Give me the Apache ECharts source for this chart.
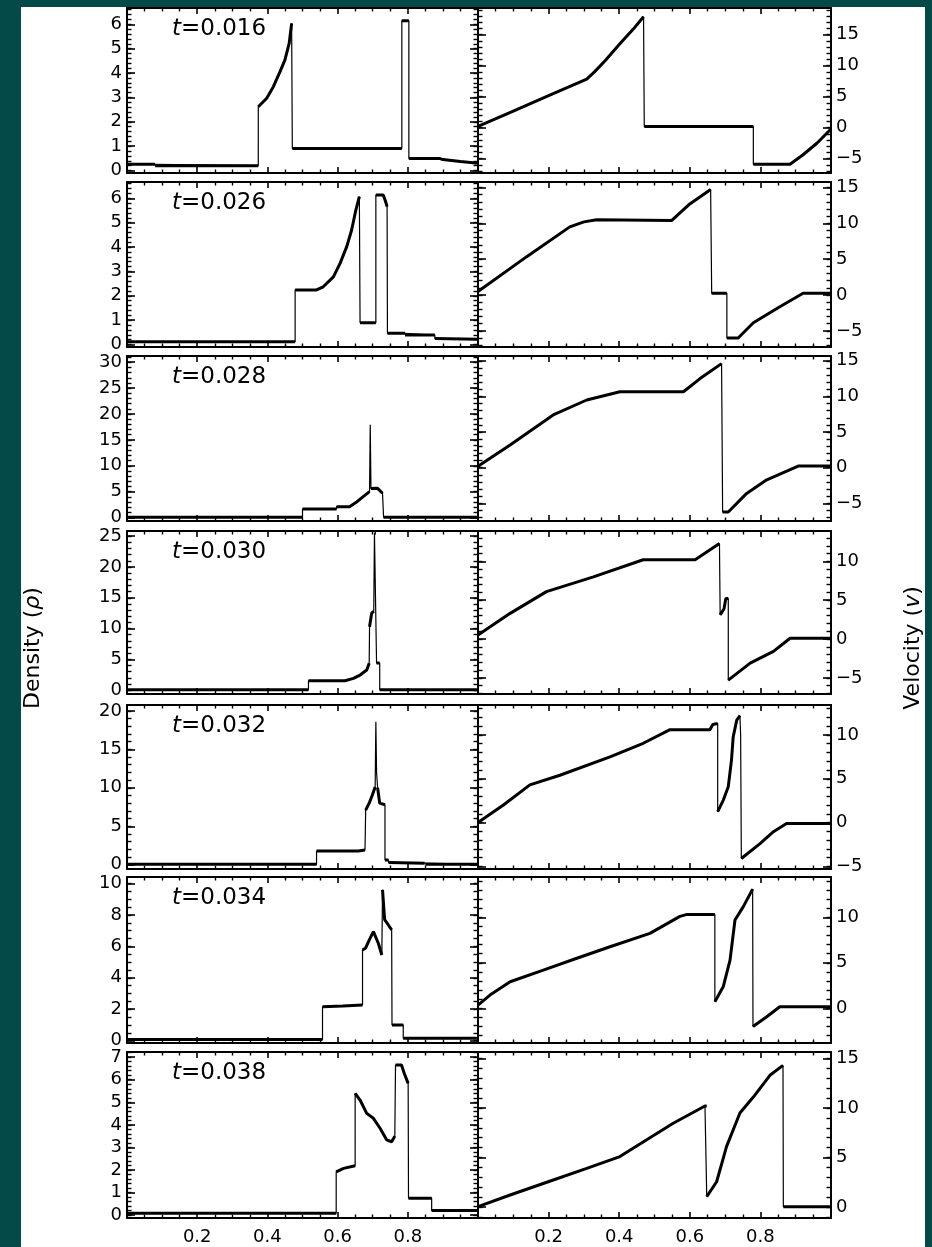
<!DOCTYPE html>
<html>
<head>
<meta charset="utf-8">
<script src="https://cdn.jsdelivr.net/npm/echarts@6/dist/echarts.min.js"></script>
<style>
  html, body { margin: 0; padding: 0; background: #034a48; }
  #chart { width: 932px; height: 1247px; }
</style>
</head>
<body>
<div id="chart"></div>
<script>
// snapshot times, one row of panels each
const times = ["0.016", "0.026", "0.028", "0.030", "0.032", "0.034", "0.038"];

// density profiles, [x, rho]
const rho016 = [[0, 0.26], [0.08, 0.26], [0.08, 0.2], [0.374, 0.2], [0.374, 2.62], [0.384, 2.76], [0.398, 2.97],
  [0.417, 3.44], [0.436, 4.06], [0.45, 4.54], [0.462, 5.22], [0.469, 6.04], [0.471, 6.11], [0.471, 0.91],
  [0.783, 0.91], [0.783, 6.15], [0.803, 6.15], [0.803, 0.5], [0.89, 0.5], [0.9, 0.45], [0.95, 0.37], [1, 0.3]];
const rho026 = [[0, 0.12], [0.479, 0.12], [0.479, 2.24], [0.54, 2.24], [0.559, 2.37], [0.588, 2.78], [0.607, 3.33],
  [0.626, 4.02], [0.64, 4.7], [0.652, 5.52], [0.662, 6.07], [0.664, 6.07], [0.664, 0.9], [0.709, 0.9], [0.709, 6.14],
  [0.73, 6.14], [0.736, 5.9], [0.741, 5.66], [0.742, 0.46], [0.792, 0.46], [0.792, 0.39], [0.877, 0.39],
  [0.877, 0.25], [1, 0.22]];
const rho028 = [[0, 0.05], [0.5, 0.05], [0.5, 1.66], [0.597, 1.66], [0.597, 2.1], [0.634, 2.1], [0.653, 2.95],
  [0.672, 4.0], [0.691, 5.0], [0.693, 17.9], [0.695, 5.6], [0.7, 5.65], [0.714, 5.65], [0.728, 4.7], [0.73, 4.7],
  [0.731, 0.05], [1, 0.05]];
const rho030 = [[0, 0.05], [0.517, 0.05], [0.517, 1.53], [0.621, 1.53], [0.645, 1.9], [0.664, 2.45], [0.683, 3.27],
  [0.69, 4.35], [0.691, 10.3], [0.697, 12.5], [0.703, 12.8], [0.705, 25.5], [0.709, 25.5], [0.711, 4.4],
  [0.72, 4.4], [0.72, 0.05], [1, 0.05]];
const rho032 = [[0, 0.05], [0.54, 0.05], [0.54, 1.78], [0.659, 1.78], [0.678, 1.9], [0.68, 7.1], [0.69, 8.0],
  [0.699, 9.06], [0.707, 10.1], [0.709, 18.6], [0.711, 12], [0.714, 10.0], [0.72, 8.0], [0.735, 7.8],
  [0.735, 0.6], [0.745, 0.6], [0.745, 0.3], [0.848, 0.2], [0.85, 0.05], [1, 0.05]];
const rho034 = [[0, 0.08], [0.557, 0.08], [0.557, 2.16], [0.615, 2.2], [0.671, 2.27], [0.671, 5.77], [0.68, 5.9],
  [0.69, 6.4], [0.702, 6.94], [0.716, 6.2], [0.726, 5.45], [0.728, 9.6], [0.734, 7.7], [0.745, 7.35],
  [0.754, 7.05], [0.755, 1.0], [0.787, 1.0], [0.787, 0.15], [1, 0.15]];
const rho038 = [[0, 0.08], [0.596, 0.08], [0.596, 1.92], [0.617, 2.07], [0.65, 2.19], [0.65, 5.4], [0.664, 5.1],
  [0.683, 4.51], [0.702, 4.29], [0.721, 3.85], [0.74, 3.33], [0.754, 3.25], [0.763, 3.5], [0.765, 6.65],
  [0.782, 6.65], [0.79, 6.28], [0.801, 5.84], [0.802, 0.75], [0.868, 0.75], [0.868, 0.2], [1, 0.2]];

// velocity profiles, [x, v]
const vel016 = [[0, 0.2], [0.1, 2.68], [0.2, 5.16], [0.308, 7.85], [0.33, 9.0], [0.36, 10.8], [0.4, 13.4],
  [0.44, 15.9], [0.469, 17.9], [0.471, 0.2], [0.78, 0.2], [0.78, -5.9], [0.884, -5.9], [0.92, -4.4],
  [0.96, -2.5], [1, -0.2]];
const vel026 = [[0, 0.5], [0.138, 5.35], [0.26, 9.5], [0.3, 10.2], [0.336, 10.5], [0.549, 10.4], [0.6, 12.7],
  [0.659, 14.7], [0.662, 14.7], [0.662, 0.24], [0.705, 0.24], [0.705, -6.0], [0.737, -6.0], [0.78, -3.86],
  [0.855, -1.63], [0.921, 0.24], [1, 0.24]];
const vel028 = [[0, 0.2], [0.091, 3.2], [0.213, 7.4], [0.308, 9.5], [0.402, 10.66], [0.582, 10.66], [0.629, 12.5],
  [0.69, 14.6], [0.693, 14.6], [0.693, -6.2], [0.709, -6.2], [0.761, -3.6], [0.818, -1.7], [0.907, 0.24],
  [1, 0.24]];
const vel030 = [[0, 0.5], [0.091, 3.3], [0.194, 6.1], [0.327, 8.0], [0.468, 10.2], [0.615, 10.2], [0.684, 12.3],
  [0.686, 12.3], [0.686, 3.1], [0.697, 3.9], [0.702, 5.2], [0.709, 5.2], [0.709, -5.3], [0.771, -3.1],
  [0.837, -1.6], [0.884, 0.1], [1, 0.1]];
const vel032 = [[0, 0], [0.072, 2.0], [0.147, 4.3], [0.232, 5.4], [0.374, 7.5], [0.468, 9.05], [0.544, 10.6],
  [0.657, 10.6], [0.665, 11.2], [0.679, 11.3], [0.679, 1.24], [0.695, 2.57], [0.709, 4.1], [0.718, 7.1],
  [0.723, 9.8], [0.733, 11.7], [0.742, 12.2], [0.744, 10.0], [0.746, 10.0], [0.746, -4.1], [0.799, -2.4],
  [0.837, -1.04], [0.874, -0.1], [1, -0.1]];
const vel034 = [[0, 0.36], [0.034, 1.46], [0.091, 2.92], [0.185, 4.2], [0.28, 5.5], [0.374, 6.77], [0.487, 8.24],
  [0.572, 10.1], [0.59, 10.3], [0.671, 10.3], [0.671, 0.73], [0.695, 2.4], [0.714, 5.3], [0.728, 9.7],
  [0.752, 11.2], [0.778, 13.1], [0.779, -2.0], [0.818, -0.92], [0.855, 0.18], [1, 0.18]];
const vel038 = [[0, 0.04], [0.091, 1.22], [0.199, 2.56], [0.308, 3.9], [0.402, 5.1], [0.478, 6.8], [0.553, 8.46],
  [0.643, 10.2], [0.648, 10.2], [0.648, 1.05], [0.676, 2.56], [0.704, 6.1], [0.742, 9.5], [0.78, 11.1],
  [0.827, 13.3], [0.864, 14.3], [0.865, 0.04], [1, 0.04]];

const rhoProfiles = [rho016, rho026, rho028, rho030, rho032, rho034, rho038];
const velProfiles = [vel016, vel026, vel028, vel030, vel032, vel034, vel038];

// axis ranges and tick labels per row
const rhoMin = [-0.1, -0.1, -0.66, -0.63, -0.56, -0.15, -0.13];
const rhoMax = [6.67, 6.67, 31.2, 25.85, 20.77, 10.42, 7.23];
const rhoLabels = [
  [0, 1, 2, 3, 4, 5, 6], [0, 1, 2, 3, 4, 5, 6], [0, 5, 10, 15, 20, 25, 30], [0, 5, 10, 15, 20, 25],
  [0, 5, 10, 15, 20], [0, 2, 4, 6, 8, 10], [0, 1, 2, 3, 4, 5, 6, 7]];
const rhoMinorStep = [0.2, 0.2, 1, 1, 1, 0.5, 0.2];
const velMin = [-7.3, -7.25, -7.47, -7.08, -5.3, -3.81, -1.1];
const velMax = [19.3, 15.76, 15.67, 13.9, 13.42, 14.43, 15.65];
const velLabels = [
  [-5, 0, 5, 10, 15], [-5, 0, 5, 10, 15], [-5, 0, 5, 10, 15], [-5, 0, 5, 10],
  [-5, 0, 5, 10], [0, 5, 10], [0, 5, 10, 15]];
const velMinorStep = [1, 1, 1, 1, 1, 1, 1];
const xLabels = [0.2, 0.4, 0.6, 0.8];

// layout
const panelTops = [8, 182, 356, 531, 705, 877, 1052];
const panelBottoms = [173, 347, 521, 694, 869, 1043, 1218];
const colLeft = [127, 478];
const colWidth = [351, 353];

const font = "DejaVu Sans";
const ink = "#000";

function stepValues(min, max, step) {
  const out = [];
  for (let k = Math.ceil(min / step - 1e-9); k * step <= max + 1e-9; k++) out.push(+(k * step).toFixed(4));
  return out;
}

const fmtNum = (v) => (v < 0 ? "\u2212" + Math.abs(v) : String(v));

const option = {
  backgroundColor: "#034a48",
  animation: false,
  grid: [], xAxis: [], yAxis: [], series: [], title: [],
  graphic: [
    { type: "rect", z: -10, silent: true, shape: { x: 21, y: 7, width: 904, height: 1240 }, style: { fill: "#fff" } },
    {
      type: "text", x: 33, y: 648, rotation: Math.PI / 2, silent: true,
      style: {
        text: "Density ({g|\u03c1})", fill: ink, font: `22px "${font}"`, align: "center", verticalAlign: "middle",
        textAlign: "center", textVerticalAlign: "middle",
        rich: { g: { fontStyle: "italic", fontFamily: font, fontSize: 22, fill: ink, color: ink } },
      },
    },
    {
      type: "text", x: 913, y: 648, rotation: Math.PI / 2, silent: true,
      style: {
        text: "Velocity ({g|v})", fill: ink, font: `22px "${font}"`, align: "center", verticalAlign: "middle",
        textAlign: "center", textVerticalAlign: "middle",
        rich: { g: { fontStyle: "italic", fontFamily: font, fontSize: 22, fill: ink, color: ink } },
      },
    },
  ],
};

function addYAxes(gi, min, max, majors, minors, position, showLabels) {
  const base = { type: "value", gridIndex: gi, min, max, position, splitLine: { show: false } };
  const idx = option.yAxis.length;
  option.yAxis.push({
    ...base,
    axisLine: { show: true, onZero: false, lineStyle: { color: ink, width: 2 } },
    axisTick: { show: true, inside: true, length: 8, customValues: majors, lineStyle: { color: ink, width: 1.6 } },
    axisLabel: {
      show: showLabels, customValues: majors, formatter: fmtNum, margin: 5,
      color: ink, fontFamily: font, fontSize: 18,
    },
  });
  option.yAxis.push({
    ...base,
    axisLine: { show: false, onZero: false },
    axisTick: { show: true, inside: true, length: 4.5, customValues: minors, lineStyle: { color: ink, width: 1.4 } },
    axisLabel: { show: false },
  });
  return idx;
}

function addXAxes(gi, showLabels) {
  const base = {
    type: "value", gridIndex: gi, min: 0, max: 1, interval: 0.2, splitLine: { show: false },
    axisLine: { show: true, onZero: false, lineStyle: { color: ink, width: 2 } },
    axisTick: { show: true, inside: true, length: 6, lineStyle: { color: ink, width: 1.6 } },
    minorTick: { show: true, splitNumber: 4, length: 3.5, lineStyle: { color: ink, width: 1.4 } },
  };
  const idx = option.xAxis.length;
  option.xAxis.push({
    ...base, position: "bottom",
    axisLabel: {
      show: showLabels, margin: 10, color: ink, fontFamily: font, fontSize: 18,
      formatter: (v) => (xLabels.some((l) => Math.abs(l - v) < 1e-6) ? v.toFixed(1) : ""),
    },
  });
  option.xAxis.push({ ...base, position: "top", axisLabel: { show: false } });
  return idx;
}

// thick strokes everywhere except the near-vertical jumps, which stay hairline
function withBreaks(points) {
  const out = [points[0]];
  for (let i = 1; i < points.length; i++) {
    const [x0] = points[i - 1];
    const [x1] = points[i];
    if (Math.abs(x1 - x0) < 0.0035) out.push([x0, "-"]);
    out.push(points[i]);
  }
  return out;
}

function addPanel(row, col, data, min, max, majors, minorStep) {
  const gi = option.grid.length;
  option.grid.push({
    left: colLeft[col], width: colWidth[col],
    top: panelTops[row], height: panelBottoms[row] - panelTops[row],
  });
  const xi = addXAxes(gi, row === times.length - 1);
  const minors = stepValues(min, max, minorStep);
  const leftIdx = addYAxes(gi, min, max, majors, minors, "left", col === 0);
  addYAxes(gi, min, max, majors, minors, "right", col === 1);
  option.series.push(
    {
      type: "line", xAxisIndex: xi, yAxisIndex: leftIdx, data, showSymbol: false, silent: true,
      lineStyle: { color: ink, width: 1.2 },
    },
    {
      type: "line", xAxisIndex: xi, yAxisIndex: leftIdx, data: withBreaks(data), showSymbol: false,
      silent: true, connectNulls: false, lineStyle: { color: ink, width: 3 },
    }
  );
}

times.forEach((t, row) => {
  addPanel(row, 0, rhoProfiles[row], rhoMin[row], rhoMax[row], rhoLabels[row], rhoMinorStep[row]);
  addPanel(row, 1, velProfiles[row], velMin[row], velMax[row], velLabels[row], velMinorStep[row]);
  option.title.push({
    text: "{i|t}=" + t, left: 172, top: panelTops[row] + 10, padding: 0,
    textStyle: {
      fontFamily: font, fontSize: 23, fontWeight: "normal", color: ink,
      rich: { i: { fontFamily: font, fontSize: 23, fontStyle: "italic", color: ink } },
    },
  });
});

const chart = echarts.init(document.getElementById("chart"), null, { renderer: "canvas" });
chart.setOption(option);
</script>
</body>
</html>
